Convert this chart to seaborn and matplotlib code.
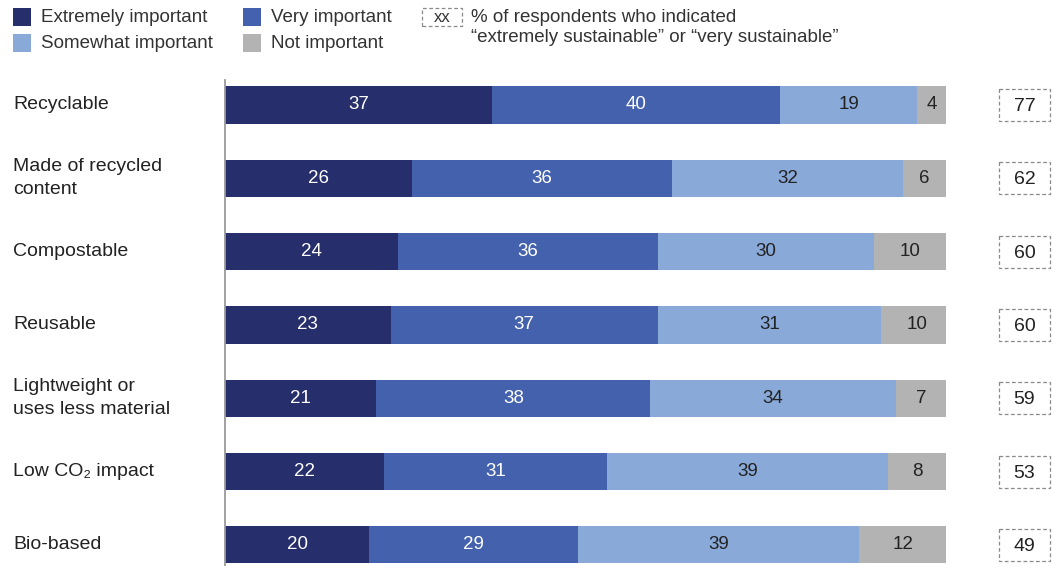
import matplotlib
matplotlib.use("Agg")
import matplotlib.pyplot as plt
import matplotlib.transforms as mtransforms
from matplotlib.patches import Rectangle
import seaborn as sns
import pandas as pd
import numpy as np

categories = ["Recyclable", "Made of recycled\ncontent", "Compostable", "Reusable",
              "Lightweight or\nuses less material", "Low CO\u2082 impact", "Bio-based"]
extremely = [37, 26, 24, 23, 21, 22, 20]
very = [40, 36, 36, 37, 38, 31, 29]
somewhat = [19, 32, 30, 31, 34, 39, 39]
not_imp = [4, 6, 10, 10, 7, 8, 12]
sustainable = [77, 62, 60, 60, 59, 53, 49]

series_names = ["Extremely important", "Very important", "Somewhat important", "Not important"]
colors = ["#262e6b", "#4461ad", "#89a9d9", "#b3b3b3"]
text_colors = ["white", "white", "#222222", "#222222"]

sns.set_theme(style="white")
plt.rcParams["font.family"] = ["Liberation Sans", "DejaVu Sans"]

W, H = 1053, 566
fig = plt.figure(figsize=(W / 100, H / 100), dpi=100)

# axes area in pixels: x 225..946, y 80..566 (top origin)
ax = fig.add_axes([225 / W, 0, (946 - 225) / W, 1 - 80 / H])

df = pd.DataFrame({"cat": categories, "ext": extremely, "very": very,
                   "some": somewhat, "not": not_imp})
parts = [df["ext"], df["very"], df["some"], df["not"]]
cums = np.cumsum(np.array(parts), axis=0)

# stacked bars drawn back to front as cumulative totals
for i in range(3, -1, -1):
    sns.barplot(x=cums[i], y=df["cat"], orient="h", color=colors[i],
                width=0.505, saturation=1, ax=ax, edgecolor="none")

for j in range(len(categories)):
    left = 0
    for i in range(4):
        val = parts[i].iloc[j]
        ax.text(left + val / 2, j, str(val), ha="center", va="center",
                color=text_colors[i], fontsize=13.5)
        left += val

spacing = 73.33
ax.set_xlim(0, 100)
ax.set_ylim((566 - 105) / spacing, (80 - 105) / spacing)
ax.set_xticks([])
ax.set_yticks([])
ax.set_xlabel("")
ax.set_ylabel("")
for s in ["top", "right", "bottom"]:
    ax.spines[s].set_visible(False)
ax.spines["left"].set_color("#9a9a9a")
ax.spines["left"].set_linewidth(1.3)

# category labels
trans = mtransforms.blended_transform_factory(fig.transFigure, ax.transData)
for j, c in enumerate(categories):
    ax.text(13 / W, j, c, transform=trans, ha="left", va="center",
            fontsize=14, color="#222222", linespacing=1.45, clip_on=False)

# dashed boxes with sustainability shares
bw, bh = 51 / W, 32 / spacing
for j, v in enumerate(sustainable):
    cx = 1024.5 / W
    ax.add_patch(Rectangle((cx - bw / 2, j - bh / 2), bw, bh, transform=trans,
                           fill=False, edgecolor="#8a8a8a", linestyle=(0, (3, 2)),
                           linewidth=0.9, clip_on=False))
    ax.text(cx, j + 0.02, str(v), transform=trans, ha="center", va="center",
            fontsize=14, color="#222222", clip_on=False)

# legend
def px(x, y):
    return x / W, 1 - y / H

legend_pos = [(13, 8), (243, 8), (13, 34), (243, 34)]
for k, (x, y) in enumerate(legend_pos):
    fig.patches.append(Rectangle(px(x, y + 18), 18 / W, 18 / H, transform=fig.transFigure,
                                 facecolor=colors[k], edgecolor="none"))
    tx, ty = px(x + 28, y + 9)
    fig.text(tx, ty, series_names[k], ha="left", va="center", fontsize=13.5, color="#333333")

fig.patches.append(Rectangle(px(422, 26), 40 / W, 18 / H, transform=fig.transFigure,
                             fill=False, edgecolor="#8a8a8a", linestyle=(0, (3, 2)),
                             linewidth=0.9))
tx, ty = px(442, 17)
fig.text(tx, ty, "xx", ha="center", va="center", fontsize=12, color="#333333")
tx, ty = px(471, 17)
fig.text(tx, ty, "% of respondents who indicated", ha="left", va="center",
         fontsize=13.5, color="#333333")
tx, ty = px(471, 38)
fig.text(tx, ty, "\u201cextremely sustainable\u201d or \u201cvery sustainable\u201d",
         ha="left", va="center", fontsize=13.5, color="#333333")

fig.savefig("out.png", dpi=100)
